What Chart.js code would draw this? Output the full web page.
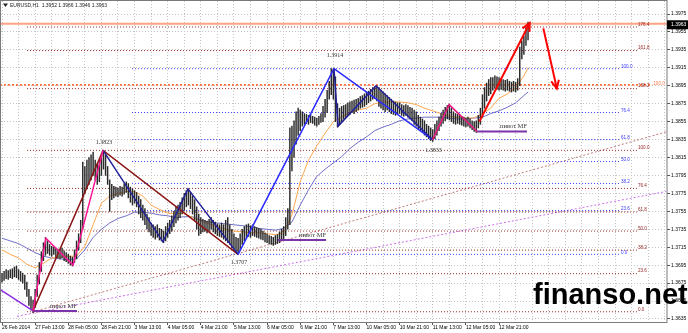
<!DOCTYPE html>
<html><head><meta charset="utf-8">
<script src="https://cdn.jsdelivr.net/npm/chart.js@4"></script>
<style>html,body{margin:0;padding:0;background:#fff;overflow:hidden}canvas{display:block}</style>
</head><body>
<canvas id="c" width="688" height="333"></canvas>
<script>
// ---- tick labels ----
const timeLabels = ["26 Feb 2014","27 Feb 13:00","28 Feb 05:00","28 Feb 21:00","3 Mar 13:00","4 Mar 05:00","4 Mar 21:00","5 Mar 13:00","6 Mar 05:00","6 Mar 21:00","7 Mar 13:00","10 Mar 05:00","10 Mar 21:00","11 Mar 13:00","12 Mar 05:00","12 Mar 21:00"];
const priceTicks = [1.3635,1.3655,1.3675,1.3695,1.3715,1.3735,1.3755,1.3775,1.3795,1.3815,1.3835,1.3855,1.3875,1.3895,1.3915,1.3935,1.3955,1.3975];

// ---- EURUSD H1 bars (low / high), one per hour ----
const barLow = [
1.3676,1.3678,1.3680,1.3679,1.3681,1.3680,1.3682,1.3681,1.3679,1.3677,
1.3675,1.3668,1.3660,1.3650,1.3645,1.3642,1.3648,1.3660,1.3674,1.3688,
1.3700,1.3706,1.3708,1.3706,1.3705,1.3707,1.3704,1.3703,1.3702,1.3703,
1.3700,1.3699,1.3697,1.3695,1.3694,1.3698,1.3702,1.3712,1.3720,1.3735,
1.3775,1.3780,1.3785,1.3790,1.3795,1.3790,1.3785,1.3788,1.3795,1.3802,
1.3795,1.3785,1.3755,1.3768,1.3770,1.3772,1.3771,1.3773,1.3772,1.3774,
1.3776,1.3770,1.3765,1.3762,1.3764,1.3760,1.3752,1.3748,1.3745,1.3740,
1.3735,1.3732,1.3728,1.3726,1.3724,1.3726,1.3723,1.3722,1.3720,1.3722,
1.3726,1.3730,1.3733,1.3738,1.3742,1.3745,1.3748,1.3752,1.3756,1.3760,
1.3762,1.3758,1.3752,1.3745,1.3735,1.3728,1.3730,1.3732,1.3733,1.3731,
1.3733,1.3735,1.3732,1.3730,1.3728,1.3727,1.3726,1.3724,1.3722,1.3720,
1.3718,1.3714,1.3712,1.3709,1.3707,1.3712,1.3718,1.3722,1.3725,1.3727,
1.3726,1.3728,1.3727,1.3726,1.3725,1.3724,1.3723,1.3721,1.3720,1.3719,
1.3718,1.3717,1.3718,1.3719,1.3720,1.3722,1.3724,1.3728,1.3735,1.3740,
1.3800,1.3815,1.3830,1.3840,1.3845,1.3850,1.3852,1.3853,1.3852,1.3854,
1.3853,1.3851,1.3850,1.3852,1.3854,1.3855,1.3860,1.3865,1.3880,1.3885,
1.3880,1.3855,1.3849,1.3852,1.3855,1.3858,1.3860,1.3862,1.3863,1.3865,
1.3864,1.3866,1.3868,1.3870,1.3871,1.3872,1.3874,1.3876,1.3878,1.3880,
1.3881,1.3878,1.3872,1.3870,1.3868,1.3866,1.3868,1.3866,1.3864,1.3863,
1.3862,1.3863,1.3864,1.3862,1.3861,1.3862,1.3860,1.3858,1.3856,1.3852,
1.3850,1.3847,1.3845,1.3843,1.3840,1.3838,1.3836,1.3834,1.3833,1.3836,
1.3840,1.3845,1.3850,1.3853,1.3856,1.3858,1.3857,1.3855,1.3853,1.3852,
1.3853,1.3852,1.3851,1.3850,1.3849,1.3850,1.3848,1.3846,1.3844,1.3843,
1.3848,1.3852,1.3860,1.3870,1.3878,1.3884,1.3886,1.3890,1.3892,1.3891,
1.3890,1.3891,1.3890,1.3889,1.3890,1.3889,1.3888,1.3889,1.3888,1.3890,
1.3895,1.3925,1.3930,1.3940,1.3946];
const barHigh = [
1.3686,1.3688,1.3690,1.3689,1.3690,1.3691,1.3693,1.3694,1.3690,1.3688,
1.3686,1.3684,1.3676,1.3668,1.3660,1.3656,1.3668,1.3684,1.3698,1.3710,
1.3720,1.3726,1.3722,1.3718,1.3716,1.3715,1.3714,1.3713,1.3712,1.3714,
1.3711,1.3709,1.3707,1.3705,1.3704,1.3712,1.3722,1.3730,1.3745,1.3810,
1.3805,1.3812,1.3815,1.3818,1.3821,1.3812,1.3808,1.3812,1.3818,1.3823,
1.3818,1.3805,1.3790,1.3785,1.3783,1.3782,1.3781,1.3783,1.3782,1.3786,
1.3788,1.3786,1.3782,1.3780,1.3778,1.3776,1.3772,1.3768,1.3762,1.3758,
1.3752,1.3748,1.3742,1.3740,1.3738,1.3740,1.3736,1.3735,1.3733,1.3738,
1.3742,1.3745,1.3750,1.3755,1.3760,1.3762,1.3765,1.3770,1.3775,1.3778,
1.3780,1.3776,1.3772,1.3768,1.3760,1.3752,1.3748,1.3746,1.3745,1.3744,
1.3746,1.3748,1.3745,1.3743,1.3741,1.3740,1.3742,1.3740,1.3745,1.3748,
1.3740,1.3735,1.3730,1.3726,1.3725,1.3730,1.3735,1.3738,1.3740,1.3741,
1.3739,1.3740,1.3738,1.3737,1.3736,1.3735,1.3733,1.3731,1.3730,1.3728,
1.3727,1.3726,1.3728,1.3729,1.3732,1.3735,1.3738,1.3748,1.3758,1.3848,
1.3850,1.3856,1.3866,1.3870,1.3868,1.3866,1.3864,1.3863,1.3862,1.3863,
1.3861,1.3860,1.3859,1.3861,1.3864,1.3872,1.3880,1.3890,1.3900,1.3914,
1.3914,1.3905,1.3875,1.3870,1.3872,1.3873,1.3874,1.3876,1.3877,1.3878,
1.3879,1.3880,1.3881,1.3883,1.3884,1.3886,1.3888,1.3889,1.3891,1.3893,
1.3894,1.3895,1.3893,1.3890,1.3888,1.3886,1.3884,1.3882,1.3880,1.3878,
1.3877,1.3876,1.3876,1.3874,1.3873,1.3874,1.3873,1.3871,1.3870,1.3868,
1.3866,1.3862,1.3860,1.3858,1.3856,1.3852,1.3850,1.3848,1.3846,1.3852,
1.3856,1.3860,1.3864,1.3868,1.3871,1.3873,1.3874,1.3870,1.3866,1.3864,
1.3863,1.3862,1.3861,1.3860,1.3859,1.3860,1.3858,1.3856,1.3855,1.3856,
1.3862,1.3870,1.3885,1.3893,1.3898,1.3902,1.3904,1.3904,1.3906,1.3905,
1.3904,1.3903,1.3902,1.3901,1.3902,1.3900,1.3899,1.3900,1.3899,1.3903,
1.3938,1.3945,1.3950,1.3960,1.3966];

// ---- moving averages (read every 4 bars) ----
const maIdx = [0,4,8,12,16,20,24,28,32,36,40,44,48,52,56,60,64,68,72,76,80,84,88,92,96,100,104,108,112,116,120,124,128,132,136,140,144,148,152,156,160,164,168,172,176,180,184,188,192,196,200,204,208,212,216,220,224,228,232,236,240,244,248,252,254];
const maFast = [1.3712,1.3707,1.3703,1.3696,1.3692,1.3697,1.3703,1.3704,1.3705,1.3705,
1.3716,1.3740,1.3764,1.3772,1.3775,1.3777,1.3777,1.3772,1.3762,1.3757,
1.3753,1.3752,1.3753,1.3748,1.3744,1.3741,1.3738,1.3735,1.3733,1.3732,
1.3731,1.3731,1.3730,1.3729,1.3731,1.3751,1.3788,1.3812,1.3828,1.3842,
1.3855,1.3860,1.3865,1.3868,1.3870,1.3875,1.3877,1.3877,1.3877,1.3876,
1.3874,1.3870,1.3867,1.3864,1.3861,1.3860,1.3859,1.3859,1.3864,1.3870,
1.3881,1.3886,1.3893,1.3906,1.3915];
const maSlow = [1.3725,1.3722,1.3719,1.3714,1.3709,1.3705,1.3703,1.3702,1.3701,1.3702,
1.3712,1.3726,1.3735,1.3742,1.3747,1.3750,1.3754,1.3754,1.3753,1.3751,
1.3750,1.3748,1.3749,1.3749,1.3745,1.3743,1.3742,1.3741,1.3740,1.3739,
1.3738,1.3736,1.3735,1.3734,1.3736,1.3743,1.3762,1.3779,1.3794,1.3802,
1.3809,1.3816,1.3825,1.3832,1.3838,1.3845,1.3849,1.3852,1.3856,1.3858,
1.3859,1.3860,1.3860,1.3860,1.3859,1.3858,1.3858,1.3859,1.3860,1.3864,
1.3867,1.3871,1.3876,1.3884,1.3888];

// ---- drawn wave lines: [bar index, price] ----
const legPurple = [[-1,1.3668],[15,1.3644]];
const legPink1 = [[15,1.3644],[21.2,1.3725],[34.3,1.3695],[48.8,1.3823]];
const legMaroon = [[15,1.3644],[48.8,1.3823],[114,1.3707]];
const legNavy1 = [[48.8,1.3823],[77.7,1.3721],[89.8,1.3780],[114,1.3707]];
const legBlue = [[114,1.3707],[160.3,1.3914],[207.9,1.3835]];
const legNavy2 = [[160.3,1.3914],[162.3,1.3850],[180.6,1.3895],[207.9,1.3835]];
const legPink2 = [[207.9,1.3835],[215.9,1.3874],[229.4,1.3844]];
const arrowUp = [[230.5,1.3855],[254.8,1.3965]];
const arrowDown = [[261.4,1.3959],[267.9,1.3892]];
const trendBrown = [[15,1.3643],[320.6,1.38435]];
const trendViolet = [[7.2,1.3638],[320.6,1.37771]];
const pivotStart = [15,133.3,229.4];
const pivotEnd = [36.2,156.5,253.5];
const pivotPrice = [1.3644,1.3723,1.3844];
const vertexIdx = [48.8,160.3,114,207.9];
const vertexPrice = [1.3823,1.3914,1.3707,1.3835];
const vertexText = ["1.3823","1.3914","1.3707","1.3833"];

// ---- fibonacci tools ----
const fibBrownAnchors = [1.3643,1.3823];
const fibBrownLevels = [0,23.6,38.2,50,61.8,76.4,100,138.2,161.8,176.4];
const fibBrownSpan = [12.1,306.6];
const fibBlueAnchors = [1.3707,1.3914];
const fibBlueLevels = [0,23.6,38.2,50,61.8,76.4,100];
const fibBlueSpan = [62.8,298.4];
const orangeLevel = 1.3896;
const orangeSpan = [-1,314];
const bidLine = 1.3964;
const lastPrice = "1.3963";

const C = {brown:'#962626', blue:'#3a3aff', orange:'#ff5a1e'};

function pts(a){return a.map(p=>({x:p[0],y:p[1]}));}
function line(data,color,width,dash,order){
  return {type:'line',data,borderColor:color,borderWidth:width,borderDash:dash||[],pointRadius:0,pointHoverRadius:0,fill:false,tension:0,order};
}
const fibPrice=(a,l)=>a[0]+(a[1]-a[0])*l/100;

const datasets=[];
datasets.push(line(pts(arrowUp),'#ff0000',2,[],1));
datasets.push(line(pts(arrowDown),'#ff0000',2,[],1));
datasets.push(line(pts(legPink2),'#e8177f',1.5,[],2));
datasets.push(line(pts(legNavy2),'#20209a',1.5,[],3));
datasets.push(line(pts(legBlue),'#2a2aff',1.5,[],3));
datasets.push(line(pts(legNavy1),'#20209a',1.5,[],3));
datasets.push(line(pts(legMaroon),'#8b1414',1.5,[],3));
datasets.push(line(pts(legPink1),'#ff1493',1.5,[],2));
datasets.push(line(pts(legPurple),'#8a2be2',1.5,[],3));
pivotPrice.forEach((p,k)=>datasets.push(line([{x:pivotStart[k],y:p},{x:pivotEnd[k],y:p}],'#7b35a8',2,[],4)));
datasets.push({type:'bar',data:barLow.map((l,i)=>({x:i,y:[l,barHigh[i]]})),backgroundColor:'#2a2a2a',borderWidth:0,barThickness:0.8,order:20});
datasets.push(line(maIdx.map((x,k)=>({x,y:maFast[k]})),'#ffa64d',1,[],25));
datasets.push(line(maIdx.map((x,k)=>({x,y:maSlow[k]})),'#6f6fc8',1,[],25));
fibBrownLevels.forEach(l=>{const p=fibPrice(fibBrownAnchors,l);datasets.push(line([{x:fibBrownSpan[0],y:p},{x:fibBrownSpan[1],y:p}],C.brown,1,[1,2],40));});
fibBlueLevels.forEach(l=>{const p=fibPrice(fibBlueAnchors,l);datasets.push(line([{x:fibBlueSpan[0],y:p},{x:fibBlueSpan[1],y:p}],C.blue,1,[1,2],40));});
datasets.push(line([{x:orangeSpan[0],y:orangeLevel},{x:orangeSpan[1],y:orangeLevel}],C.orange,1.5,[2,2],39));
datasets.push(line([{x:-1,y:bidLine},{x:325,y:bidLine}],'#ffa384',2,[],39));
datasets.push(line(pts(trendBrown),'#c07a7a',1,[2,2],41));
datasets.push(line(pts(trendViolet),'#cc70ee',1,[2,2],41));

const overlay={id:'overlay',afterDraw(chart){
  const ctx=chart.ctx,xs=chart.scales.x,ys=chart.scales.y;
  const X=v=>xs.getPixelForValue(v),Y=v=>ys.getPixelForValue(v);
  ctx.save();
  // fib labels
  ctx.font='4.6px "Liberation Sans"';ctx.textBaseline='middle';ctx.textAlign='left';
  fibBrownLevels.forEach(l=>{ctx.fillStyle=C.brown;ctx.fillText(l.toFixed(1),X(fibBrownSpan[1])+1,Y(fibPrice(fibBrownAnchors,l))-2.5);});
  fibBlueLevels.forEach(l=>{ctx.fillStyle=C.blue;ctx.fillText(l.toFixed(1),X(fibBlueSpan[1])+1,Y(fibPrice(fibBlueAnchors,l))-2);});
  ctx.fillStyle='#ff7a50';ctx.fillText('100.0',X(orangeSpan[1])+1,Y(orangeLevel)-1);
  // vertex labels
  ctx.font='6px "Liberation Serif"';ctx.fillStyle='#333';ctx.textAlign='center';
  const dy=[-8,-13,8,11];
  vertexIdx.forEach((v,k)=>ctx.fillText(vertexText[k],X(v)+1,Y(vertexPrice[k])+dy[k]));
  // pivot labels
  ctx.font='6.5px "Liberation Serif"';ctx.textAlign='right';ctx.textBaseline='alphabetic';ctx.fillStyle='#3a3a3a';
  pivotPrice.forEach((p,k)=>ctx.fillText('пивот МF',X(pivotEnd[k]),Y(p)-3));
  // arrow heads
  ctx.strokeStyle='#ff0000';ctx.lineWidth=2;
  [arrowUp,arrowDown].forEach(a=>{
    const x0=X(a[0][0]),y0=Y(a[0][1]),x1=X(a[1][0]),y1=Y(a[1][1]);
    const ang=Math.atan2(y1-y0,x1-x0),L=9,w=0.45;
    ctx.beginPath();
    ctx.moveTo(x1-L*Math.cos(ang-w),y1-L*Math.sin(ang-w));
    ctx.lineTo(x1,y1);
    ctx.lineTo(x1-L*Math.cos(ang+w),y1-L*Math.sin(ang+w));
    ctx.stroke();
  });
  // frame
  const a=chart.chartArea;
  ctx.strokeStyle='#7a7a7a';ctx.lineWidth=1;
  ctx.strokeRect(0.5,0.5,a.right-0.5,a.bottom);
  // title
  ctx.fillStyle='#222';
  ctx.beginPath();ctx.moveTo(3,3.5);ctx.lineTo(8,3.5);ctx.lineTo(5.5,7);ctx.closePath();ctx.fill();
  ctx.font='5px "Liberation Sans"';ctx.textAlign='left';ctx.textBaseline='middle';
  ctx.fillText('EURUSD,H1  1.3952 1.3966 1.3946 1.3963',10,5.5);
  // last price box
  const yb=Y(1.3963);
  ctx.fillStyle='#000';ctx.fillRect(a.right,yb-4.5,688-a.right,9);
  ctx.fillStyle='#fff';ctx.fillText(lastPrice,a.right+4,yb);
  // watermark
  ctx.fillStyle='#000';ctx.font='bold 29px "Liberation Sans"';ctx.textBaseline='alphabetic';
  ctx.fillText('finanso.net',533,304);
  ctx.restore();
}};

new Chart(document.getElementById('c'),{
  type:'line',
  data:{datasets},
  options:{
    responsive:false,animation:false,devicePixelRatio:1,
    layout:{padding:{left:1,top:1,right:0,bottom:0}},
    plugins:{legend:{display:false},tooltip:{enabled:false}},
    events:[],
    scales:{
      x:{type:'linear',min:-0.483,max:321.1,offset:false,
        afterBuildTicks(s){const t=[];for(let v=0;v<=320;v+=8)t.push({value:v});s.ticks=t;},
        afterFit(s){s.height=11;s.paddingLeft=0;s.paddingRight=0;},
        ticks:{autoSkip:false,maxRotation:0,minRotation:0,align:'start',padding:0,color:'#000',font:{family:'Liberation Sans',size:5},
          callback:v=>(v%16===0&&timeLabels[v/16])?timeLabels[v/16]:''},
        grid:{color:'#c4c4c4',offset:false,tickLength:3,tickColor:c=>(c.tick&&c.tick.value%16===0&&c.tick.value<=240)?'#555':'rgba(0,0,0,0)'},
        border:{display:false,dash:[1,2]}},
      y:{type:'linear',position:'right',min:1.36316,max:1.39895,
        afterBuildTicks(s){s.ticks=priceTicks.map(v=>({value:v}));},
        afterFit(s){s.width=21;s.paddingTop=0;s.paddingBottom=0;},
        ticks:{padding:1,color:'#000',font:{family:'Liberation Sans',size:5},callback:v=>Number(v).toFixed(4)},
        grid:{color:'#c4c4c4',tickLength:3,tickColor:'#555'},
        border:{display:false,dash:[1,2]}}
    }
  },
  plugins:[overlay]
});
</script>
</body></html>
